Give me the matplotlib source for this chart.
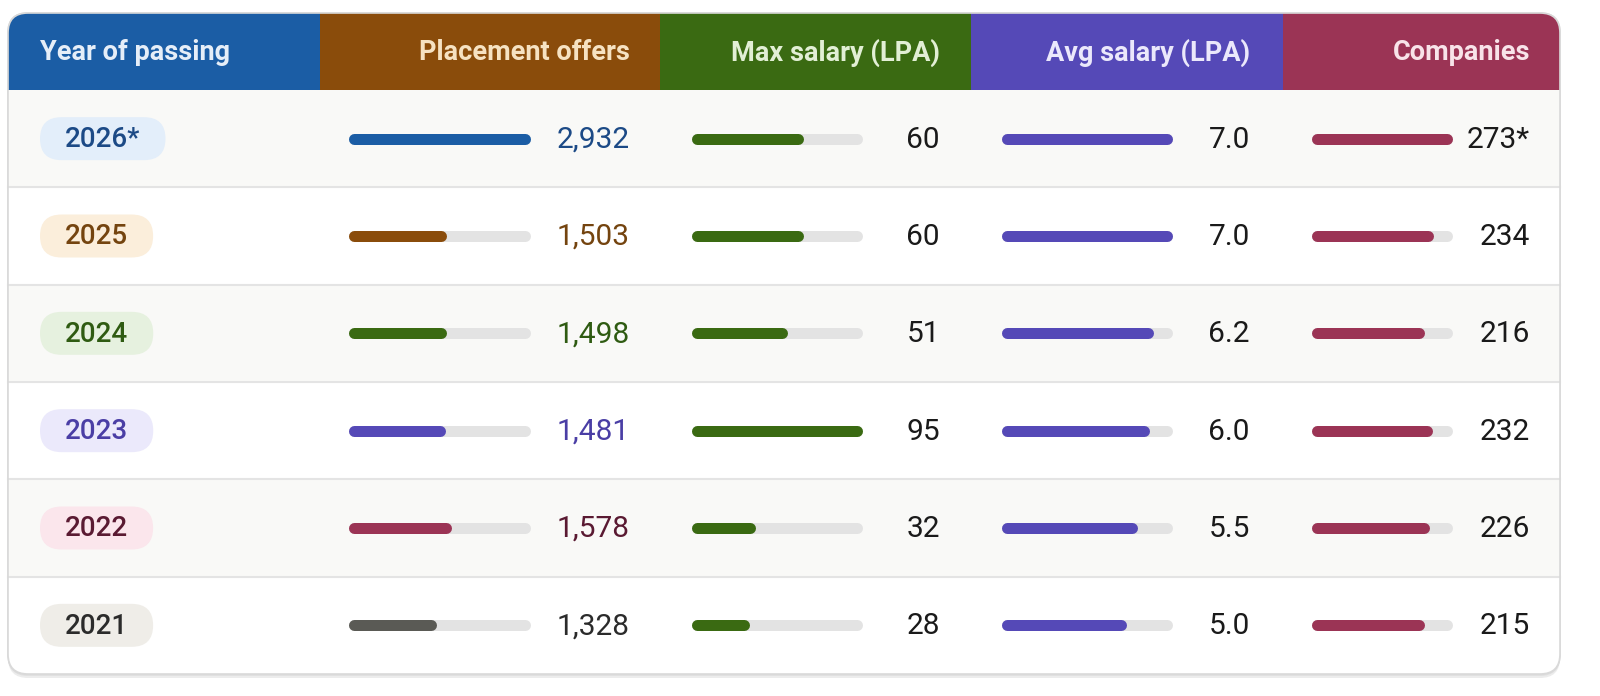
import matplotlib
matplotlib.use("Agg")
import matplotlib.pyplot as plt
from matplotlib.patches import FancyBboxPatch, Rectangle

plt.rcParams['font.family'] = ['Roboto', 'DejaVu Sans']

# ---------------- data ----------------
years = ["2026*", "2025", "2024", "2023", "2022", "2021"]
placement_offers = [2932, 1503, 1498, 1481, 1578, 1328]
max_salary = [60, 60, 51, 95, 32, 28]
avg_salary = [7.0, 7.0, 6.2, 6.0, 5.5, 5.0]
companies = [273, 234, 216, 232, 226, 215]
companies_labels = ["273*", "234", "216", "232", "226", "215"]
headers = ["Year of passing", "Placement offers", "Max salary (LPA)",
           "Avg salary (LPA)", "Companies"]

# ---------------- styles ----------------
header_bg = ["#1b5da5", "#8a4c0b", "#3a6a12", "#5549b7", "#9b3455"]
header_fg = ["#e6eef8", "#f6e2c2", "#e2efd5", "#ebe8fb", "#f8e3e9"]
year_bar = ["#1b5da5", "#8a4c0b", "#3a6a12", "#5549b7", "#9b3455", "#5a5a55"]
year_text = ["#1c4a86", "#74440f", "#2f5b12", "#4a3ea5", "#5a1a32", "#2b2b2b"]
pill_bg = ["#e3eefa", "#fbeedb", "#e6f1df", "#ebe9fb", "#fbe6ec", "#efede8"]
track_col = "#e3e3e3"

W, H = 1600, 696
fig = plt.figure(figsize=(W / 100, H / 100), dpi=100)
fig.patch.set_facecolor("white")
ax = fig.add_axes([0, 0, 1, 1])
ax.set_xlim(0, W)
ax.set_ylim(H, 0)
ax.axis("off")

left, right, top, bottom = 8, 1560, 13, 674
head_bot = 90
nrows = len(years)
row_h = (bottom - head_bot) / nrows
col_edges = [left, 320, 660, 971, 1283, right]

# shadow + table
for off, c in [(4, "#ececec"), (2, "#e0e0e0")]:
    ax.add_patch(FancyBboxPatch((left, top + off), right - left, bottom - top,
                                boxstyle="round,pad=0,rounding_size=20",
                                fc=c, ec="none", zorder=0))
table = FancyBboxPatch((left, top), right - left, bottom - top,
                       boxstyle="round,pad=0,rounding_size=20",
                       fc="white", ec="#d9d9d9", lw=1.2, zorder=1)
ax.add_patch(table)

# row backgrounds
for i in range(nrows):
    y0 = head_bot + i * row_h
    fc = "#f9f9f7" if i % 2 == 0 else "white"
    r = Rectangle((left, y0), right - left, row_h, fc=fc, ec="none", zorder=1.5)
    ax.add_patch(r)
    r.set_clip_path(table)
    if i > 0:
        ax.plot([left, right], [y0, y0], color="#e4e4e4", lw=1.5, zorder=2)

# header
for j in range(5):
    r = Rectangle((col_edges[j], top), col_edges[j + 1] - col_edges[j],
                  head_bot - top, fc=header_bg[j], ec="none", zorder=2)
    ax.add_patch(r)
    r.set_clip_path(table)
hy = (top + head_bot) / 2 + 1
ax.text(40, hy, headers[0], ha="left", va="center", fontsize=19.5,
        fontweight="bold", color=header_fg[0], zorder=3)
val_right = [630, 940, 1250, 1530]
for j in range(1, 5):
    ax.text(val_right[j - 1], hy, headers[j], ha="right", va="center",
            fontsize=19.5, fontweight="bold", color=header_fg[j], zorder=3)
ax.add_patch(FancyBboxPatch((left, top), right - left, bottom - top,
                            boxstyle="round,pad=0,rounding_size=20",
                            fc="none", ec="#d9d9d9", lw=1.2, zorder=4))

# pills and values
fig.canvas.draw()
renderer = fig.canvas.get_renderer()
inv = ax.transData.inverted()
vfs = 21.5
for i in range(nrows):
    yc = head_bot + (i + 0.5) * row_h
    t = ax.text(65, yc + 1, years[i], ha="left", va="center", fontsize=20,
                fontweight="medium", color=year_text[i], zorder=6)
    bb = t.get_window_extent(renderer)
    (x0, _), (x1, _) = inv.transform([(bb.x0, bb.y0), (bb.x1, bb.y1)])
    ph = 43
    ax.add_patch(FancyBboxPatch((40, yc - ph / 2), (x1 - 65) + 50, ph,
                                boxstyle="round,pad=0,rounding_size=21.5",
                                fc=pill_bg[i], ec="none", zorder=5))
    ax.text(val_right[0], yc + 1, f"{placement_offers[i]:,}", ha="right",
            va="center", fontsize=vfs, color=year_text[i], zorder=6)
    ax.text(val_right[1], yc + 1, f"{max_salary[i]}", ha="right",
            va="center", fontsize=vfs, color="#1a1a1a", zorder=6)
    ax.text(val_right[2], yc + 1, f"{avg_salary[i]:.1f}", ha="right",
            va="center", fontsize=vfs, color="#1a1a1a", zorder=6)
    ax.text(val_right[3], yc + 1, companies_labels[i], ha="right",
            va="center", fontsize=vfs, color="#1a1a1a", zorder=6)

# bars in their own axes (data scales)
bar_lw_px = 11
cap = bar_lw_px / 2
lw_pt = bar_lw_px * 72 / 100
tracks = [(348, 530), (691, 862), (1002, 1172), (1311, 1452)]
series = [placement_offers, max_salary, avg_salary, companies]
colors = [year_bar, ["#3a6a12"] * nrows, ["#5549b7"] * nrows, ["#9b3455"] * nrows]
for (xa, xb), vals, cols in zip(tracks, series, colors):
    x0 = xa + cap
    x1 = xb - cap
    bax = fig.add_axes([x0 / W, 1 - bottom / H, (x1 - x0) / W, (bottom - head_bot) / H])
    bax.set_xlim(0, max(vals))
    bax.set_ylim(nrows - 0.5, -0.5)
    bax.axis("off")
    bax.patch.set_alpha(0)
    m = max(vals)
    for i, v in enumerate(vals):
        bax.plot([0, m], [i, i], color=track_col, lw=lw_pt,
                 solid_capstyle="round", clip_on=False, zorder=1)
        bax.plot([0, v], [i, i], color=cols[i], lw=lw_pt,
                 solid_capstyle="round", clip_on=False, zorder=2)

fig.savefig("out.png", dpi=100)
